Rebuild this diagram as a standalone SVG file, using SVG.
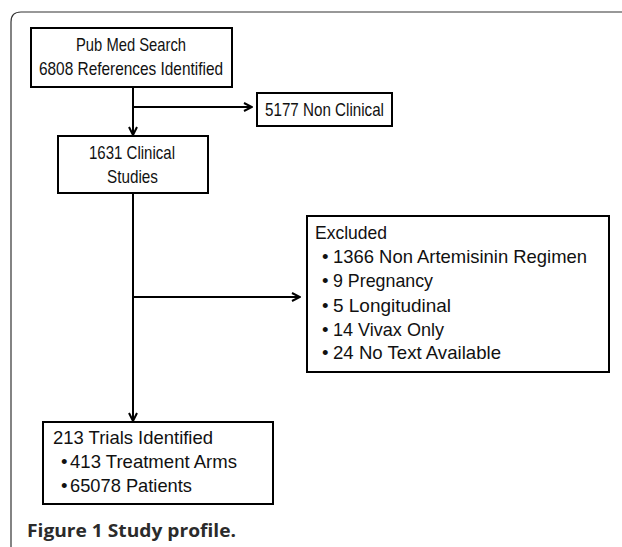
<svg xmlns="http://www.w3.org/2000/svg" width="622" height="547" viewBox="0 0 622 547">
<defs>
<style>
.box{fill:#fff;stroke:#000;stroke-width:2}
.t{font-family:"Liberation Sans",Arial,sans-serif;font-size:18.5px;fill:#111}
.line{fill:none;stroke:#000;stroke-width:2}
.cap{font-family:"Open Sans","Liberation Sans",sans-serif;font-weight:bold;font-size:18px;fill:#2b2b2b}
</style>
<marker id="ah" viewBox="0 0 10 10" refX="9" refY="5" markerWidth="10" markerHeight="10" markerUnits="userSpaceOnUse" orient="auto">
<path d="M1,1 L9,5 L1,9" fill="none" stroke="#000" stroke-width="2"/>
</marker>
</defs>
<rect width="622" height="547" fill="#fff"/>
<path d="M11,547 L11,22 Q11,12 21,12 L622,12" fill="none" stroke="#333" stroke-width="1.2"/>
<g id="connectors">
<line class="line" x1="133" y1="87" x2="133" y2="135" marker-end="url(#ah)"/>
<line class="line" x1="133" y1="107" x2="252" y2="107" marker-end="url(#ah)"/>
<line class="line" x1="133" y1="193" x2="133" y2="421" marker-end="url(#ah)"/>
<line class="line" x1="133" y1="297" x2="300" y2="297" marker-end="url(#ah)"/>
</g>
<g id="search">
<rect class="box" x="31" y="28" width="201" height="59"/>
<text class="t" x="76" y="51" textLength="110" lengthAdjust="spacingAndGlyphs">Pub Med Search</text>
<text class="t" x="39" y="75" textLength="184" lengthAdjust="spacingAndGlyphs">6808 References Identified</text>
</g>
<g id="nonclinical">
<rect class="box" x="257" y="93" width="135" height="33"/>
<text class="t" x="265" y="116" textLength="119" lengthAdjust="spacingAndGlyphs">5177 Non Clinical</text>
</g>
<g id="clinical">
<rect class="box" x="58" y="136" width="150" height="57"/>
<text class="t" x="89" y="159" textLength="86" lengthAdjust="spacingAndGlyphs">1631 Clinical</text>
<text class="t" x="107" y="183" textLength="51" lengthAdjust="spacingAndGlyphs">Studies</text>
</g>
<g id="excluded">
<rect class="box" x="307" y="216" width="302" height="156"/>
<text class="t" x="315" y="239" textLength="72" lengthAdjust="spacingAndGlyphs">Excluded</text>
<text class="t" x="322" y="263">•</text><text class="t" x="333" y="263" textLength="254" lengthAdjust="spacingAndGlyphs">1366 Non Artemisinin Regimen</text>
<text class="t" x="322" y="287">•</text><text class="t" x="333" y="287" textLength="100" lengthAdjust="spacingAndGlyphs">9 Pregnancy</text>
<text class="t" x="322" y="312">•</text><text class="t" x="333" y="312" textLength="118" lengthAdjust="spacingAndGlyphs">5 Longitudinal</text>
<text class="t" x="322" y="336">•</text><text class="t" x="333" y="336" textLength="111" lengthAdjust="spacingAndGlyphs">14 Vivax Only</text>
<text class="t" x="322" y="359">•</text><text class="t" x="333" y="359" textLength="168" lengthAdjust="spacingAndGlyphs">24 No Text Available</text>
</g>
<g id="trials">
<rect class="box" x="43" y="422" width="230" height="82"/>
<text class="t" x="53" y="444" textLength="160" lengthAdjust="spacingAndGlyphs">213 Trials Identified</text>
<text class="t" x="61" y="468">•</text><text class="t" x="70" y="468" textLength="167" lengthAdjust="spacingAndGlyphs">413 Treatment Arms</text>
<text class="t" x="61" y="492">•</text><text class="t" x="70" y="492" textLength="122" lengthAdjust="spacingAndGlyphs">65078 Patients</text>
</g>
<text class="cap" x="27" y="537" textLength="209" lengthAdjust="spacingAndGlyphs">Figure 1 Study profile.</text>
</svg>
